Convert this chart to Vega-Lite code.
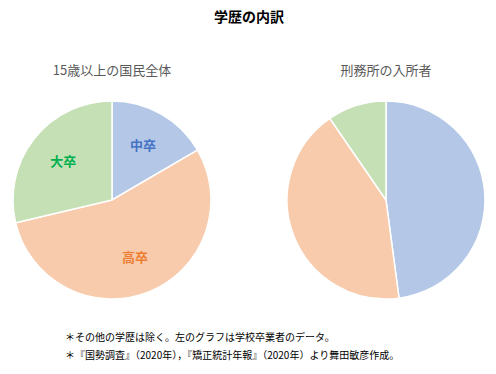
{
  "$schema": "https://vega.github.io/schema/vega-lite/v6.json",
  "padding": {"left": 10, "top": 11, "right": 5, "bottom": 5},
  "background": "white",
  "title": {
    "text": "学歴の内訳",
    "fontSize": 14,
    "fontWeight": "bold",
    "font": "Noto Sans CJK JP",
    "color": "#000000",
    "anchor": "middle",
    "offset": 40
  },
  "config": {
    "view": {"stroke": null},
    "font": "Noto Sans CJK JP",
    "title": {"font": "Noto Sans CJK JP"}
  },
  "spacing": 27,
  "vconcat": [
    {
      "hconcat": [
        {
          "width": 198,
          "height": 198,
          "title": {"text": "15歳以上の国民全体", "fontSize": 13, "fontWeight": "normal", "color": "#595959", "offset": 20},
          "data": {"values": [
            {"学歴": "中卒", "割合": 16.6},
            {"学歴": "高卒", "割合": 54.7},
            {"学歴": "大卒", "割合": 28.7}
          ]},
          "transform": [{"window": [{"op": "row_number", "as": "順"}]}],
          "layer": [
            {
              "mark": {"type": "arc", "stroke": "white", "strokeWidth": 1.5},
              "encoding": {
                "theta": {"field": "割合", "type": "quantitative", "stack": true},
                "order": {"field": "順", "type": "quantitative"},
                "color": {"field": "学歴", "type": "nominal", "legend": null,
                  "scale": {"domain": ["中卒", "高卒", "大卒"], "range": ["#B4C7E7", "#F8CBAD", "#C5E0B4"]}}
              }
            },
            {
              "mark": {"type": "text", "radius": 62, "fontSize": 13, "fontWeight": "bold"},
              "encoding": {
                "theta": {"field": "割合", "type": "quantitative", "stack": true},
                "order": {"field": "順", "type": "quantitative"},
                "text": {"field": "学歴", "type": "nominal"},
                "color": {"field": "学歴", "type": "nominal", "legend": null,
                  "scale": {"domain": ["中卒", "高卒", "大卒"], "range": ["#4472C4", "#ED7D31", "#00B050"]}}
              }
            }
          ],
          "resolve": {"scale": {"color": "independent"}}
        },
        {
          "width": 198,
          "height": 198,
          "title": {"text": "刑務所の入所者", "fontSize": 13, "fontWeight": "normal", "color": "#595959", "offset": 20},
          "data": {"values": [
            {"学歴": "中卒", "割合": 47.9},
            {"学歴": "高卒", "割合": 42.5},
            {"学歴": "大卒", "割合": 9.6}
          ]},
          "transform": [{"window": [{"op": "row_number", "as": "順"}]}],
          "mark": {"type": "arc", "stroke": "white", "strokeWidth": 1.5},
          "encoding": {
            "theta": {"field": "割合", "type": "quantitative", "stack": true},
            "order": {"field": "順", "type": "quantitative"},
            "color": {"field": "学歴", "type": "nominal", "legend": null,
              "scale": {"domain": ["中卒", "高卒", "大卒"], "range": ["#B4C7E7", "#F8CBAD", "#C5E0B4"]}}
          }
        }
      ],
      "spacing": 70,
      "resolve": {"scale": {"color": "independent"}}
    },
    {
      "width": 104,
      "height": 36,
      "data": {"values": [
        {"注": "＊その他の学歴は除く。左のグラフは学校卒業者のデータ。"},
        {"注": "＊『国勢調査』（2020年），『矯正統計年報』（2020年）より舞田敏彦作成。"}
      ]},
      "mark": {"type": "text", "align": "left", "fontSize": 10, "color": "#000000"},
      "encoding": {
        "y": {"field": "注", "type": "nominal", "axis": null, "sort": null},
        "text": {"field": "注", "type": "nominal"}
      }
    }
  ]
}
